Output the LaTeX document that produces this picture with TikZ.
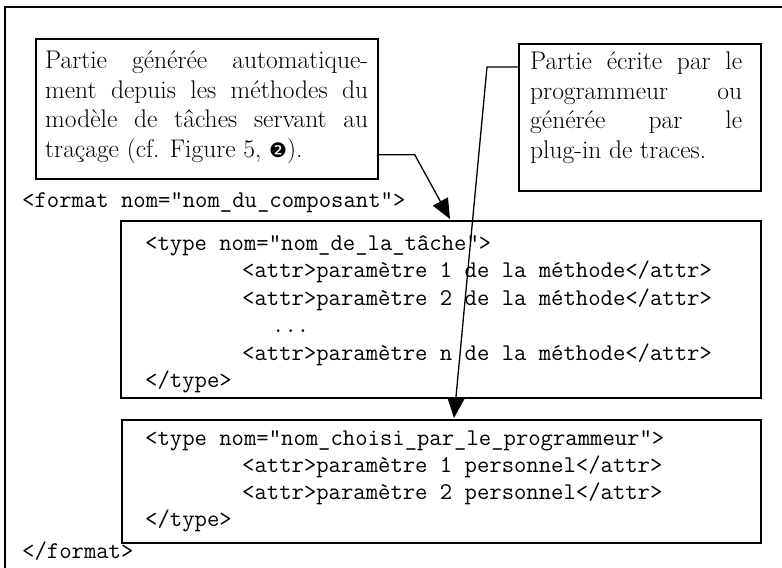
\documentclass[tikz,border=0pt]{standalone}
\usepackage{fontspec}
\newfontfamily\dingfont{DejaVu Sans}
\usetikzlibrary{arrows.meta,calc}
\newcommand\notefont{\fontsize{25.5bp}{29.5bp}\selectfont\addfontfeature{FakeBold=0.3}}
\newcommand\codefont{\fontsize{24bp}{27bp}\selectfont\ttfamily\addfontfeature{FakeBold=0.5}}
\begin{document}
\begin{tikzpicture}[x=1bp,y=-1bp,
  note/.style={draw, line width=1.8bp, inner sep=0pt, anchor=north west},
  notetext/.style={anchor=base west, inner sep=0pt, font=\notefont},
  codebox/.style={draw, line width=1.6bp, inner sep=0pt, anchor=north west},
  code/.style={anchor=base west, inner sep=0pt, font=\codefont},
  lead/.style={line width=1.3bp, -{Triangle[length=20bp,width=17bp]}},
]
\useasboundingbox (0,0) rectangle (782,568);

% outer frame (left and top sides)
\draw[line width=2.2bp] (5,568) -- (5,7) -- (782,7);

% explanatory notes
\node[note, minimum width=342bp, minimum height=140bp] (gen) at (35,38) {};
\node[notetext] (gentext) at ($(gen.north west)+(10,31)$) {\parbox[t]{323bp}{%
  \makebox[\linewidth][s]{Partie générée automatique-}\\
  \makebox[\linewidth][s]{ment depuis les méthodes du}\\
  \makebox[\linewidth][s]{modèle de tâches servant au}\\
  traçage (cf. Figure 5, {\dingfont\fontsize{20bp}{20bp}\selectfont ❷}).}};

\node[note, minimum width=242bp, minimum height=147bp] (own) at (518,43) {};
\node[notetext] (owntext) at ($(own.north west)+(12,27)$) {\parbox[t]{212bp}{%
  \makebox[\linewidth][s]{Partie écrite par le}\\
  \makebox[\linewidth][s]{programmeur ou}\\
  \makebox[\linewidth][s]{générée par le}\\
  plug-in de traces.}};

% code listing
\node[code] (fmtopen) at (22,208) {<format nom="nom\_du\_composant">};

\node[codebox, minimum width=640bp, minimum height=177bp] (tasks) at (120,220) {};
\node[code] (t0) at ($(tasks.north west)+(25,30)$)  {<type nom="nom\_de\_la\_tâche">};
\node[code] (t1) at ($(tasks.north west)+(122,57)$) {<attr>paramètre 1 de la méthode</attr>};
\node[code] (t2) at ($(tasks.north west)+(122,85)$) {<attr>paramètre 2 de la méthode</attr>};
\node[code] (t3) at ($(tasks.north west)+(152,112)$) {...};
\node[code] (t4) at ($(tasks.north west)+(122,140)$) {<attr>paramètre n de la méthode</attr>};
\node[code] (t5) at ($(tasks.north west)+(25,167)$) {</type>};

\node[codebox, minimum width=639bp, minimum height=123bp] (custom) at (121,419) {};
\node[code] (c0) at ($(custom.north west)+(24,26)$)  {<type nom="nom\_choisi\_par\_le\_programmeur">};
\node[code] (c1) at ($(custom.north west)+(121,53)$) {<attr>paramètre 1 personnel</attr>};
\node[code] (c2) at ($(custom.north west)+(121,80)$) {<attr>paramètre 2 personnel</attr>};
\node[code] (c3) at ($(custom.north west)+(24,107)$) {</type>};

\node[code] (fmtclose) at (22,558) {</format>};

% leader arrows from the notes to the listing
\draw[lead] ($(gen.south east)+(0,-25)$) -- ++(36,0) -- ($(tasks.north west)+(330,-1)$);
\draw[lead] ($(own.north west)+(0,24)$) -- ++(-31,0) -- ($(custom.north west)+(333,-1)$);
\end{tikzpicture}
\end{document}
